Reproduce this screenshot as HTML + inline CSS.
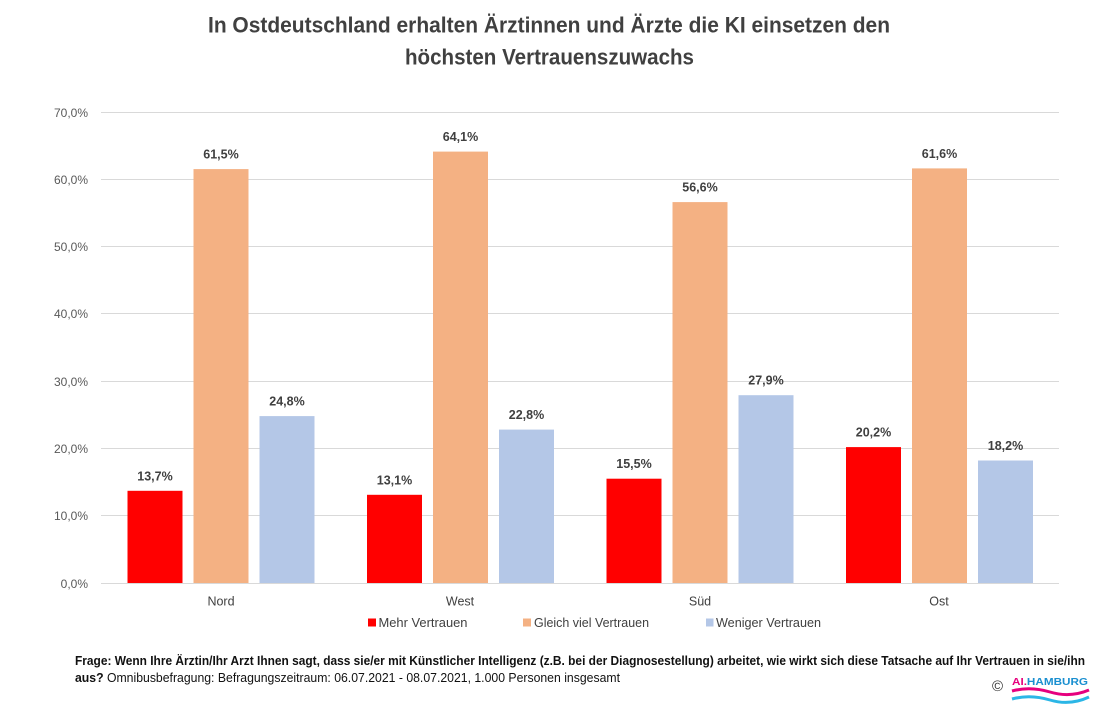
<!DOCTYPE html>
<html><head><meta charset="utf-8"><style>
html,body{margin:0;padding:0;background:#fff;}
svg{display:block;}
text{font-family:"Liberation Sans",sans-serif;}
</style></head><body>
<svg width="1100" height="712" viewBox="0 0 1100 712" xmlns="http://www.w3.org/2000/svg">
<rect width="1100" height="712" fill="#fff"/>
<!-- Title -->
<text x="208" y="32.5" font-size="22" font-weight="bold" fill="#404040" textLength="682" lengthAdjust="spacingAndGlyphs">In Ostdeutschland erhalten Ärztinnen und Ärzte die KI einsetzen den</text>
<text x="405" y="64.5" font-size="22" font-weight="bold" fill="#404040" textLength="289" lengthAdjust="spacingAndGlyphs">höchsten Vertrauenszuwachs</text>

<!-- gridlines -->
<g stroke="#d9d9d9" stroke-width="1">
<line x1="101" x2="1059" y1="112.5" y2="112.5"/>
<line x1="101" x2="1059" y1="179.5" y2="179.5"/>
<line x1="101" x2="1059" y1="246.5" y2="246.5"/>
<line x1="101" x2="1059" y1="313.5" y2="313.5"/>
<line x1="101" x2="1059" y1="381.5" y2="381.5"/>
<line x1="101" x2="1059" y1="448.5" y2="448.5"/>
<line x1="101" x2="1059" y1="515.5" y2="515.5"/>
<line x1="101" x2="1059" y1="583.5" y2="583.5"/>
</g>
<!-- y labels -->
<g font-size="12" fill="#595959" text-anchor="end">
<text x="88" y="117">70,0%</text>
<text x="88" y="184">60,0%</text>
<text x="88" y="251">50,0%</text>
<text x="88" y="318">40,0%</text>
<text x="88" y="386">30,0%</text>
<text x="88" y="453">20,0%</text>
<text x="88" y="520">10,0%</text>
<text x="88" y="588">0,0%</text>
</g>

<!-- bars -->
<g>
<rect x="127.5" y="490.8" width="55" height="92.2" fill="#ff0000"/>
<rect x="193.5" y="169.1" width="55" height="413.9" fill="#f4b183"/>
<rect x="259.5" y="416.1" width="55" height="166.9" fill="#b4c7e7"/>
<rect x="367" y="494.8" width="55" height="88.2" fill="#ff0000"/>
<rect x="433" y="151.6" width="55" height="431.4" fill="#f4b183"/>
<rect x="499" y="429.6" width="55" height="153.4" fill="#b4c7e7"/>
<rect x="606.5" y="478.7" width="55" height="104.3" fill="#ff0000"/>
<rect x="672.5" y="202.1" width="55" height="380.9" fill="#f4b183"/>
<rect x="738.5" y="395.2" width="55" height="187.8" fill="#b4c7e7"/>
<rect x="846" y="447.1" width="55" height="135.9" fill="#ff0000"/>
<rect x="912" y="168.4" width="55" height="414.6" fill="#f4b183"/>
<rect x="978" y="460.5" width="55" height="122.5" fill="#b4c7e7"/>
</g>

<!-- data labels -->
<g font-size="12.5" font-weight="bold" fill="#404040" text-anchor="middle">
<text x="155" y="480.5">13,7%</text>
<text x="221" y="158.5">61,5%</text>
<text x="287" y="405.5">24,8%</text>
<text x="394.5" y="484.5">13,1%</text>
<text x="460.5" y="141">64,1%</text>
<text x="526.5" y="419">22,8%</text>
<text x="634" y="468">15,5%</text>
<text x="700" y="191.5">56,6%</text>
<text x="766" y="384.5">27,9%</text>
<text x="873.5" y="436.5">20,2%</text>
<text x="939.5" y="158">61,6%</text>
<text x="1005.5" y="450">18,2%</text>
</g>

<!-- category labels -->
<g font-size="12.5" fill="#404040" text-anchor="middle">
<text x="221" y="605.5">Nord</text>
<text x="460" y="605.5">West</text>
<text x="700" y="605.5">Süd</text>
<text x="939" y="605.5">Ost</text>
</g>

<!-- legend -->
<rect x="368" y="618.5" width="8" height="8" fill="#ff0000"/>
<text x="378.5" y="627" font-size="12.5" fill="#404040" textLength="89" lengthAdjust="spacingAndGlyphs">Mehr Vertrauen</text>
<rect x="523" y="618.5" width="8" height="8" fill="#f4b183"/>
<text x="534" y="627" font-size="12.5" fill="#404040" textLength="115" lengthAdjust="spacingAndGlyphs">Gleich viel Vertrauen</text>
<rect x="706" y="618.5" width="7.5" height="8" fill="#b4c7e7"/>
<text x="716" y="627" font-size="12.5" fill="#404040" textLength="105" lengthAdjust="spacingAndGlyphs">Weniger Vertrauen</text>

<!-- footer -->
<text x="75" y="665" font-size="12.5" font-weight="bold" fill="#111" textLength="1010" lengthAdjust="spacingAndGlyphs">Frage: Wenn Ihre Ärztin/Ihr Arzt Ihnen sagt, dass sie/er mit Künstlicher Intelligenz (z.B. bei der Diagnosestellung) arbeitet, wie wirkt sich diese Tatsache auf Ihr Vertrauen in sie/ihn</text>
<text x="75" y="682" font-size="12.5" fill="#111" textLength="545" lengthAdjust="spacingAndGlyphs"><tspan font-weight="bold">aus?</tspan> Omnibusbefragung: Befragungszeitraum: 06.07.2021 - 08.07.2021, 1.000 Personen insgesamt</text>

<!-- logo -->
<text x="992" y="691" font-size="15" fill="#333">©</text>
<text x="1012" y="685" font-size="10.5" font-weight="bold" fill="#1a8fd0" textLength="76" lengthAdjust="spacingAndGlyphs"><tspan fill="#e6007e">AI.</tspan>HAMBURG</text>
<path d="M1012 691 Q1030 686 1050 692 T1089 690" stroke="#e6007e" stroke-width="3" fill="none"/>
<path d="M1012 699 Q1030 694 1050 700 T1089 697" stroke="#2bb6e6" stroke-width="3" fill="none"/>
</svg>
</body></html>
